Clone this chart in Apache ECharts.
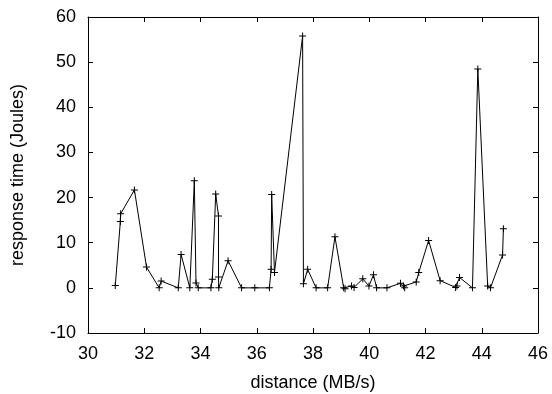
<!DOCTYPE html>
<html>
<head>
<meta charset="utf-8">
<script src="https://cdn.jsdelivr.net/npm/echarts@6/dist/echarts.min.js"></script>
<style>
  html, body { margin: 0; padding: 0; background: #fff; }
  #chart { width: 552px; height: 394px; }
</style>
</head>
<body>
<div id="chart"></div>
<script>
// distance (MB/s)
const xs = [30.97, 31.15, 31.16, 31.65, 32.08, 32.53, 32.6, 33.21, 33.31, 33.62,
  33.78, 33.84, 33.92, 34.37, 34.42, 34.54, 34.64, 34.64, 34.65, 34.98,
  35.46, 35.93, 36.45, 36.51, 36.53, 36.63, 37.63, 37.66, 37.81, 38.11,
  38.52, 38.78, 39.09, 39.14, 39.37, 39.46, 39.77, 39.99, 40.15, 40.26,
  40.63, 41.11, 41.22, 41.26, 41.67, 41.76, 42.11, 42.52, 43.07, 43.12,
  43.21, 43.67, 43.86, 44.21, 44.31, 44.74, 44.77]
// response time (Joules)
const ys = [0.5, 14.7, 16.4, 21.7, 4.6, 0, 1.5, 0, 7.4, 0,
  23.7, 1.1, 0, 0, 1.9, 20.8, 15.9, 2.4, 0, 6.0,
  0, 0, 0, 4.1, 20.7, 3.4, 55.8, 0.9, 4.1, 0,
  0, 11.3, 0, -0.2, 0.4, 0.1, 2.0, 0.4, 2.9, 0,
  0, 1.0, 0.4, 0, 1.3, 3.4, 10.5, 1.6, 0.1, 0.4,
  2.3, 0, 48.5, 0.4, 0, 7.3, 13.1]

const font = 'Liberation Sans, Arial, Helvetica, sans-serif'
const fontSize = 18
const chart = echarts.init(document.getElementById('chart'))

// box + inward ticks on all four sides, like gnuplot
const axisCommon = {
  type: 'value',
  axisLine: { show: true, onZero: false, lineStyle: { color: '#000', width: 1 } },
  axisTick: { show: true, inside: true, length: 5, lineStyle: { color: '#000' } },
  splitLine: { show: false },
}
const textStyle = { fontFamily: font, fontSize: fontSize, color: '#000' }

chart.setOption({
  animation: false,
  grid: { left: 88, right: 14, top: 17, bottom: 61, outerBoundsMode: 'none' },
  xAxis: [
    {
      ...axisCommon,
      min: 30, max: 46, interval: 2,
      name: 'distance (MB/s)',
      nameLocation: 'middle',
      nameGap: 41,
      nameTextStyle: textStyle,
      axisLabel: { ...textStyle, margin: 12 },
    },
    {
      ...axisCommon,
      position: 'top',
      min: 30, max: 46, interval: 2,
      axisLabel: { show: false },
    },
  ],
  yAxis: [
    {
      ...axisCommon,
      min: -10, max: 60, interval: 10,
      name: 'response time (Joules)',
      nameLocation: 'middle',
      nameGap: 61,
      nameTextStyle: textStyle,
      axisLabel: { ...textStyle, margin: 12 },
    },
    {
      ...axisCommon,
      position: 'right',
      min: -10, max: 60, interval: 10,
      axisLabel: { show: false },
    },
  ],
  series: [
    {
      type: 'line',
      data: xs.map((x, i) => [x, ys[i]]),
      symbol: 'path://M0,3 H7 V4 H0 Z M3,0 H4 V7 H3 Z',
      symbolSize: 7,
      showAllSymbol: true,
      itemStyle: { color: '#000' },
      lineStyle: { color: '#000', width: 1 },
    },
  ],
})
</script>
</body>
</html>
